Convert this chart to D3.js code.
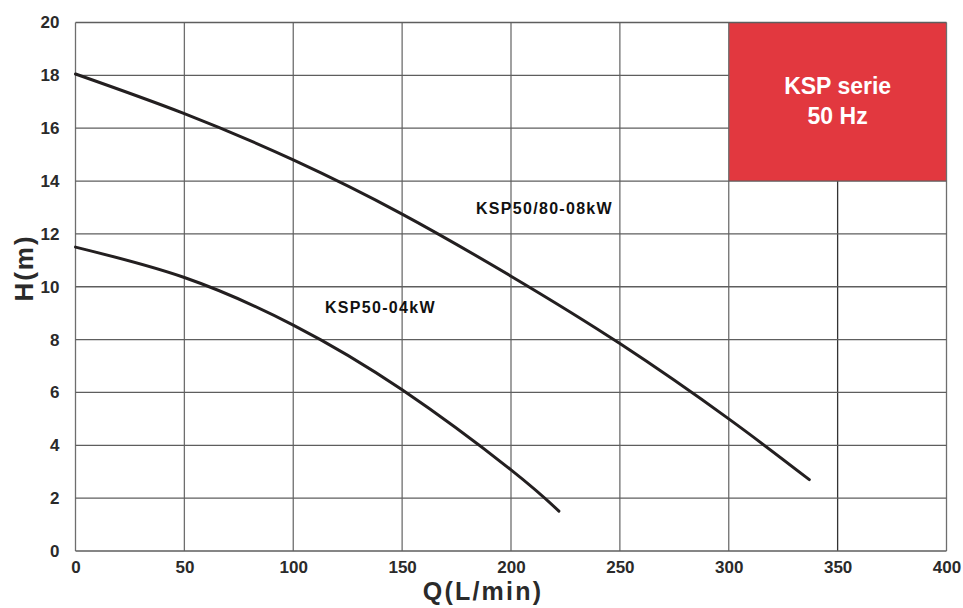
<!DOCTYPE html>
<html>
<head>
<meta charset="utf-8">
<script src="https://cdn.jsdelivr.net/npm/d3@7/dist/d3.min.js"></script>
<style>
    body { margin: 0; background: #fff; }
    text { font-family: "Liberation Sans", Arial, sans-serif; }
</style>
</head>
<body>
<svg width="963" height="608"></svg>
<script>
"use strict";

// Curve data
var qBig = [0, 50, 100, 150, 200, 250, 300, 337];
var hBig = [18.05, 16.55, 14.8, 12.75, 10.4, 7.85, 5.0, 2.7];
var qSmall = [0, 50, 100, 150, 200, 222];
var hSmall = [11.5, 10.35, 8.55, 6.1, 3.07, 1.51];
var xTicks = [0, 50, 100, 150, 200, 250, 300, 350, 400];
var yTicks = [0, 2, 4, 6, 8, 10, 12, 14, 16, 18, 20];
var curveNames = ["KSP50/80-08kW", "KSP50-04kW"];
var badgeLines = ["KSP serie", "50 Hz"];

var svg = d3.select("svg");

var xScale = d3.scaleLinear().domain([0, 400]).range([75.5, 946.5]);
var yScale = d3.scaleLinear().domain([0, 20]).range([551, 22.5]);

// Red badge in the top right corner
svg.append("rect")
    .attr("x", xScale(300))
    .attr("y", yScale(20))
    .attr("width", xScale(400) - xScale(300))
    .attr("height", yScale(14) - yScale(20))
    .attr("fill", "#e2383f");

// Grid lines
var grid = svg.append("g").attr("class", "grid");
grid.selectAll("line.v")
    .data(xTicks)
    .enter().append("line")
        .attr("class", "v")
        .attr("x1", d => xScale(d)).attr("x2", d => xScale(d))
        .attr("y1", d => d === 350 ? yScale(14) : yScale(20))
        .attr("y2", yScale(0))
        .attr("stroke", d => d === 350 ? "#333" : "#6e6e6e")
        .attr("stroke-width", 1.3);
grid.selectAll("line.h")
    .data(yTicks)
    .enter().append("line")
        .attr("class", "h")
        .attr("x1", xScale(0))
        .attr("x2", d => (d > 14 && d < 20) ? xScale(300) : xScale(400))
        .attr("y1", d => yScale(d)).attr("y2", d => yScale(d))
        .attr("stroke", "#5e5e5e")
        .attr("stroke-width", 1.3);

// Axes (tick labels only)
var xAxis = svg.append("g")
    .attr("transform", "translate(0," + yScale(0) + ")")
    .call(d3.axisBottom(xScale).tickValues(xTicks).tickSize(0).tickPadding(10));
var yAxis = svg.append("g")
    .attr("transform", "translate(" + xScale(0) + ",0)")
    .call(d3.axisLeft(yScale).tickValues(yTicks).tickSize(0).tickPadding(16));
[xAxis, yAxis].forEach(function (ax) {
    ax.select(".domain").remove();
    ax.selectAll("text")
        .style("font-family", "Liberation Sans, Arial, sans-serif")
        .style("font-size", "17px")
        .style("font-weight", "bold")
        .attr("fill", "#2a2a2a");
});

// Axis titles
svg.append("text")
    .attr("x", 483)
    .attr("y", 600)
    .attr("text-anchor", "middle")
    .style("font-size", "25px")
    .style("font-weight", "bold")
    .style("letter-spacing", "2.2px")
    .attr("fill", "#2a2a2a")
    .text("Q(L/min)");
svg.append("text")
    .attr("transform", "translate(33, 268) rotate(-90)")
    .attr("text-anchor", "middle")
    .style("font-size", "26px")
    .style("font-weight", "bold")
    .style("letter-spacing", "2px")
    .attr("fill", "#2a2a2a")
    .text("H(m)");

// Pump curves
var line = d3.line()
    .x(d => xScale(d[0]))
    .y(d => yScale(d[1]))
    .curve(d3.curveNatural);

[[qBig, hBig], [qSmall, hSmall]].forEach(function (s) {
    svg.append("path")
        .datum(d3.zip(s[0], s[1]))
        .attr("d", line)
        .attr("fill", "none")
        .attr("stroke", "#231f20")
        .attr("stroke-width", 3)
        .attr("stroke-linecap", "round");
});

// Curve labels
svg.append("text")
    .attr("x", 476).attr("y", 214)
    .style("font-size", "16px").style("font-weight", "bold")
    .style("letter-spacing", "1.3px")
    .attr("fill", "#111")
    .text(curveNames[0]);
svg.append("text")
    .attr("x", 325).attr("y", 313)
    .style("font-size", "16px").style("font-weight", "bold")
    .style("letter-spacing", "1.3px")
    .attr("fill", "#111")
    .text(curveNames[1]);

// Badge text
svg.selectAll("text.badge")
    .data(badgeLines)
    .enter().append("text")
        .attr("class", "badge")
        .attr("x", (xScale(300) + xScale(400)) / 2)
        .attr("y", (d, i) => 94 + i * 29.5)
        .attr("text-anchor", "middle")
        .style("font-size", "23px")
        .style("font-weight", "bold")
        .attr("fill", "#fff")
        .text(d => d);
</script>
</body>
</html>
